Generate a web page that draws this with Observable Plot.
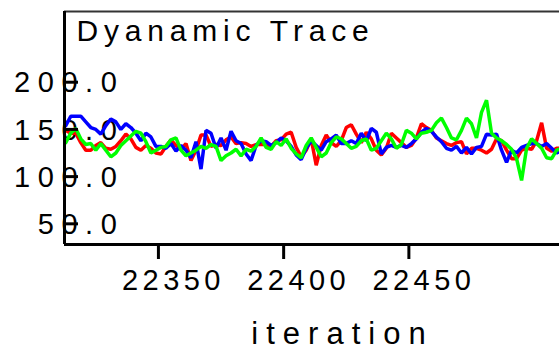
<!DOCTYPE html>
<html>
<head>
<meta charset="utf-8">
<script src="https://cdn.jsdelivr.net/npm/d3@7"></script>
<script src="https://cdn.jsdelivr.net/npm/@observablehq/plot@0.6"></script>
<style>
  html, body { margin: 0; padding: 0; overflow: hidden; background: #fff; width: 559px; height: 349px; }
  #chart svg { display: block; max-width: none !important; }
</style>
</head>
<body>
<div id="chart"></div>
<script>
const iterations = d3.range(22313, 22513, 2);

const redValues = [
  149,146,146,136,128,128,133,136,130,129,
  132,138,145,140,131,128,133,130,125,124,
  132,139,133,129,135,117,128,144,144,132,
  134,133,139,142,135,136,135,132,134,134,
  134,132,138,139,145,147,131,121,128,140,
  112,133,144,136,132,138,152,155,145,136,
  147,140,128,123,130,146,141,136,131,133,
  141,156,152,149,141,138,135,133,136,137,
  124,130,130,128,125,129,140,138,128,119,
  119,128,130,129,138,157,130,127,130,130
];

const blueValues = [
  154,164,164,164,158,152,150,145,154,161,
  158,150,156,152,146,138,146,142,132,132,
  130,135,127,133,128,120,137,108,149,146,
  130,141,128,148,138,135,124,117,133,138,
  137,133,136,141,138,132,123,118,130,138,
  133,128,137,140,144,135,135,138,135,146,
  138,151,147,124,131,133,131,133,131,135,
  140,147,151,148,142,137,130,128,132,125,
  131,124,131,132,145,144,145,128,115,128,
  125,131,133,135,135,132,135,130,125,128
];

const greenValues = [
  136,146,151,140,134,135,128,135,128,121,
  125,133,138,143,148,146,137,125,128,131,
  132,139,141,128,122,125,128,132,130,134,
  132,117,122,125,129,122,129,127,132,141,
  131,129,137,133,140,130,124,120,133,141,
  131,121,125,136,142,140,135,130,132,138,
  140,128,130,138,146,140,130,134,149,146,
  140,146,147,149,157,162,152,141,139,149,
  162,156,141,168,181,146,141,138,134,129,
  119,96,130,140,135,130,120,119,128,130
];

const xTicks = [22350, 22400, 22450];
const yTicks = [50, 100, 150, 200];
const xDomain = [22312.5, 22531.3];
const yDomain = [28.1, 274.9];
const titleText = "Dyanamic Trace";
const xLabelText = "iteration";

const font = "'Liberation Sans', Arial, sans-serif";

const lineOpts = (color) => ({
  x: (d, i) => iterations[i],
  y: d => d,
  stroke: color,
  strokeWidth: 3.5,
  strokeLinejoin: "miter",
  curve: "linear"
});

const chart = Plot.plot({
  width: 612,
  height: 349,
  marginLeft: 64,
  marginRight: 0,
  marginTop: 11,
  marginBottom: 105,
  style: { fontFamily: font, background: "#fff", color: "#000", maxWidth: "none", overflow: "visible" },
  x: { domain: xDomain },
  y: { domain: yDomain },
  marks: [
    Plot.text(yTicks, {
      y: d => d, frameAnchor: "left", text: d => d.toFixed(1),
      textAnchor: "end", lineAnchor: "middle", dx: 60, dy: 1, fontSize: 29,
      fill: "#000"
    }),
    Plot.text([titleText], {
      frameAnchor: "top-left", text: d => d, textAnchor: "start",
      lineAnchor: "bottom", dx: 12, dy: 29, fontSize: 30, fill: "#000"
    }),
    Plot.line(redValues, lineOpts("#ff0000")),
    Plot.line(blueValues, lineOpts("#0000ff")),
    Plot.line(greenValues, lineOpts("#00ff00")),
    Plot.ruleY([yDomain[1]], { stroke: "#333", strokeWidth: 2 }),
    Plot.ruleX([xDomain[0]], { stroke: "#000", strokeWidth: 3 }),
    Plot.ruleY([yDomain[0]], { stroke: "#000", strokeWidth: 3 }),
    Plot.axisX(xTicks, { tickSize: 15, strokeWidth: 3, tickFormat: () => "", stroke: "#000" }),
    Plot.axisY(yTicks, { tickSize: -14, strokeWidth: 3, tickFormat: () => "", stroke: "#000" }),
    Plot.text(xTicks, {
      x: d => d, frameAnchor: "bottom", text: d => String(d),
      textAnchor: "middle", lineAnchor: "bottom", dy: 45, dx: 15,
      fontSize: 29, fill: "#000"
    }),
    Plot.text([xLabelText], {
      frameAnchor: "bottom", text: d => d, textAnchor: "middle",
      lineAnchor: "bottom", dy: 99, dx: 4, fontSize: 31, fill: "#000"
    })
  ]
});

const xTickStrings = xTicks.map(String);
const yTickStrings = yTicks.map(d => d.toFixed(1));
d3.select(chart).selectAll("text").each(function () {
  const t = this.textContent;
  let ls = null;
  if (t === titleText) ls = "5.8px";
  else if (t === xLabelText) ls = "8px";
  else if (xTickStrings.includes(t)) ls = "4.4px";
  else if (yTickStrings.includes(t)) ls = "7.6px";
  if (ls) this.setAttribute("letter-spacing", ls), this.style.letterSpacing = ls;
});

document.getElementById("chart").appendChild(chart);
</script>
</body>
</html>
